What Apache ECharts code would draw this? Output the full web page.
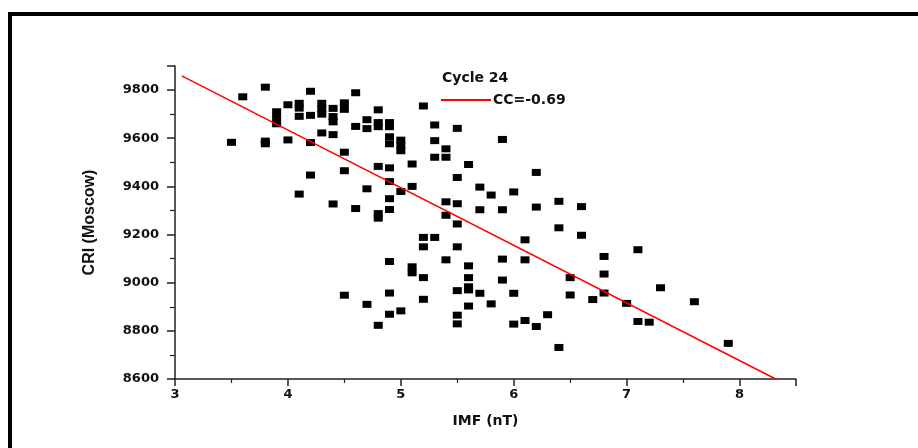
<!DOCTYPE html>
<html>
<head>
<meta charset="utf-8">
<script src="https://cdn.jsdelivr.net/npm/echarts@6/dist/echarts.min.js"></script>
<style>html,body{margin:0;padding:0;background:#fff}#c{width:918px;height:448px}</style>
</head>
<body>
<div id="c"></div>
<script>
// IMF (nT) values
var imf = [
3.5, 3.6, 3.8, 3.8, 3.8, 3.9, 3.9, 3.9, 4.0, 4.0,
4.1, 4.1, 4.1, 4.1, 4.2, 4.2, 4.2, 4.2, 4.3, 4.3, 4.3, 4.3,
4.4, 4.4, 4.4, 4.4, 4.4, 4.5, 4.5, 4.5, 4.5, 4.5, 4.6, 4.6, 4.6,
4.7, 4.7, 4.7, 4.7, 4.8, 4.8, 4.8, 4.8, 4.8, 4.8, 4.8,
4.9, 4.9, 4.9, 4.9, 4.9, 4.9, 4.9, 4.9, 4.9, 4.9, 4.9,
5.0, 5.0, 5.0, 5.0, 5.0, 5.1, 5.1, 5.1, 5.1,
5.2, 5.2, 5.2, 5.2, 5.2, 5.3, 5.3, 5.3, 5.3,
5.4, 5.4, 5.4, 5.4, 5.4, 5.5, 5.5, 5.5, 5.5, 5.5, 5.5, 5.5, 5.5,
5.6, 5.6, 5.6, 5.6, 5.6, 5.6, 5.7, 5.7, 5.7, 5.8, 5.8,
5.9, 5.9, 5.9, 5.9, 6.0, 6.0, 6.0, 6.1, 6.1, 6.1, 6.2, 6.2, 6.2,
6.3, 6.4, 6.4, 6.4, 6.5, 6.5, 6.6, 6.6, 6.7, 6.8, 6.8, 6.8,
7.0, 7.1, 7.1, 7.2, 7.3, 7.6, 7.9
];
// CRI (Moscow) values
var cri = [
9583, 9772, 9812, 9588, 9577, 9710, 9685, 9660, 9739, 9593,
9745, 9725, 9691, 9368, 9795, 9695, 9582, 9447, 9745, 9722, 9700, 9622,
9724, 9690, 9668, 9615, 9327, 9747, 9720, 9542, 9465, 8948, 9789, 9649, 9308,
9677, 9640, 9390, 8910, 9718, 9665, 9648, 9483, 9287, 9268, 8823,
9665, 9648, 9606, 9577, 9477, 9420, 9349, 9304, 9088, 8957, 8869,
9592, 9570, 9548, 9379, 8883, 9493, 9400, 9066, 9041,
9734, 9188, 9149, 9021, 8931, 9655, 9590, 9521, 9188,
9556, 9521, 9336, 9280, 9095, 9641, 9437, 9328, 9244, 9149, 8967, 8865, 8829,
9491, 9070, 9021, 8983, 8970, 8903, 9397, 9303, 8956, 9364, 8912,
9595, 9303, 9098, 9011, 9377, 8956, 8828, 9178, 9095, 8843, 9458, 9314, 8818,
8867, 9338, 9228, 8731, 9021, 8949, 9316, 9197, 8930, 9109, 9036, 8957,
8914, 9137, 8839, 8836, 8979, 8921, 8748
];
// linear fit end points
var fitX = [3.06, 8.32];
var fitY = [9859, 8600];
var fitName = 'CC=-0.69';
var legendTitle = 'Cycle 24';
var xName = 'IMF (nT)';
var yName = 'CRI (Moscow)';

var pts = imf.map(function (v, i) { return [v, cri[i]]; });
var fit = fitX.map(function (v, i) { return [v, fitY[i]]; });

var chart = echarts.init(document.getElementById('c'), null, {renderer: 'canvas'});
var F = 'DejaVu Sans';
chart.setOption({
  backgroundColor: '#fff',
  animation: false,
  title: {
    text: legendTitle, left: 442, top: 71, padding: 0,
    textStyle: {fontFamily: F, fontWeight: 'bold', fontSize: 14, color: '#111'}
  },
  legend: {
    data: [{name: fitName, icon: 'rect'}], left: 436, top: 88, itemWidth: 50, itemHeight: 2, itemGap: 2,
    textStyle: {fontFamily: F, fontWeight: 'bold', fontSize: 14, color: '#111', padding: [0, 0, 0, -3]}
  },
  grid: {left: 175, right: 122, top: 66, bottom: 69, containLabel: false},
  xAxis: {
    type: 'value', min: 3, max: 8.5, interval: 1,
    name: xName, nameLocation: 'middle', nameGap: 35,
    nameTextStyle: {fontFamily: F, fontWeight: 'bold', fontSize: 14, color: '#111'},
    axisLine: {show: true, lineStyle: {color: '#222', width: 1.5}},
    axisTick: {show: true, inside: false, length: 7, lineStyle: {color: '#222', width: 1.5}},
    minorTick: {show: true, splitNumber: 2, length: 4, lineStyle: {color: '#222', width: 1.2}},
    splitLine: {show: false},
    axisLabel: {fontFamily: F, fontWeight: 'bold', fontSize: 13, color: '#111', margin: 9, showMaxLabel: false,
      formatter: function (v) { return String(v); }}
  },
  yAxis: {
    type: 'value', min: 8600, max: 9900, interval: 200,
    name: yName, nameLocation: 'middle', nameGap: 77, nameRotate: 90,
    nameTextStyle: {fontFamily: 'Liberation Sans', fontWeight: 'bold', fontSize: 16, color: '#111'},
    axisLine: {show: true, lineStyle: {color: '#222', width: 1.5}},
    axisTick: {show: true, inside: false, length: 8, lineStyle: {color: '#222', width: 1.5}},
    minorTick: {show: true, splitNumber: 2, length: 5, lineStyle: {color: '#222', width: 1.2}},
    splitLine: {show: false},
    axisLabel: {fontFamily: F, fontWeight: 'bold', fontSize: 13, color: '#111', margin: 16, showMaxLabel: false,
      formatter: function (v) { return String(v); }}
  },
  graphic: [{
    type: 'rect', silent: true, z: 100,
    shape: {x: 10, y: 14, width: 1000, height: 1000},
    style: {fill: 'none', stroke: '#000', lineWidth: 4}
  }],
  series: [{
    type: 'scatter', name: 'data', data: pts,
    symbol: 'rect', symbolSize: [9, 7],
    itemStyle: {color: '#000', opacity: 1}
  }, {
    type: 'line', name: fitName, data: fit,
    symbol: 'none', showSymbol: false,
    lineStyle: {color: '#ff0000', width: 1.5},
    itemStyle: {color: '#ff0000'}
  }]
});
</script>
</body>
</html>
